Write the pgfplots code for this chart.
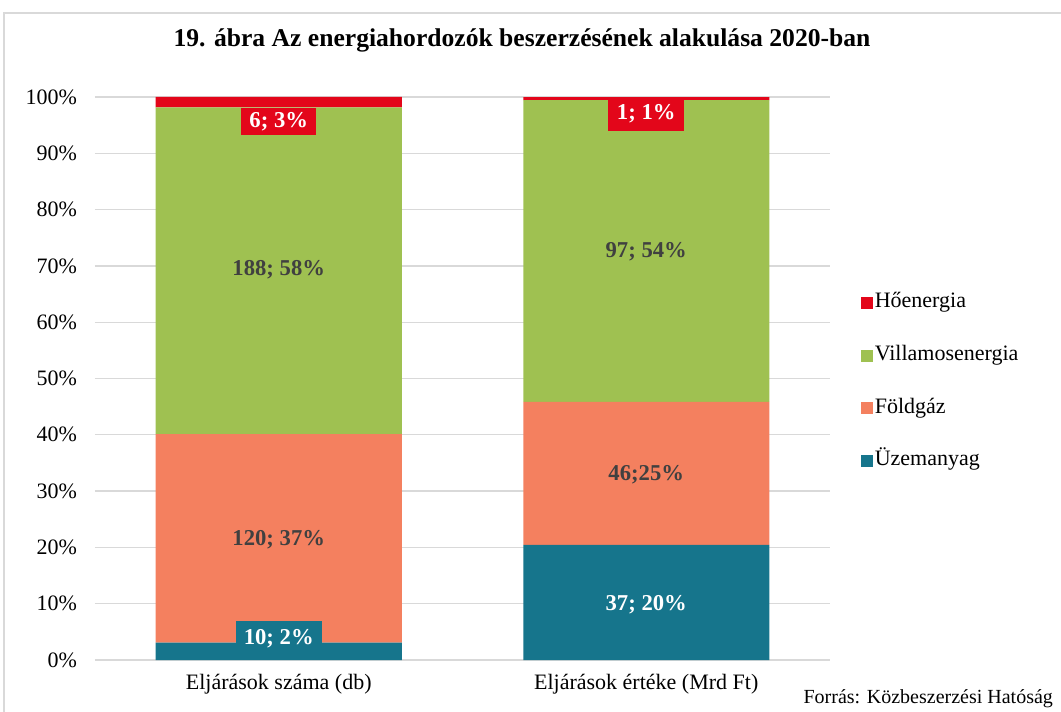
\documentclass[border=0pt]{standalone}
\usepackage{pgfplots}
\pgfplotsset{compat=1.18}
\usepackage{pgfplotstable}
\usepackage{fontspec}
\setmainfont{Liberation Serif}
\definecolor{cRed}{HTML}{E3061A}
\definecolor{cGreen}{HTML}{9FC151}
\definecolor{cOrange}{HTML}{F4805F}
\definecolor{cTeal}{HTML}{16758C}
\definecolor{cGrid}{HTML}{D9D9D9}
\definecolor{cLab}{HTML}{404040}
\pgfplotstableread{
x uzem fold vill ho
0 3.09 37.04 58.02 1.85
1 20.44 25.41 53.59 0.55
}\data
\tikzset{lab/.style={font=\bfseries\fontsize{17}{19}\selectfont}}
\begin{document}
\begin{tikzpicture}[x=1pt,y=1pt]
\path[use as bounding box] (-71.25,-38.25) rectangle (724.5,495);
\draw[cGrid, line width=1.2pt] (-68.25,-40) -- (-68.25,485.25) -- (730,485.25);
\node[font=\bfseries\fontsize{19.2}{22}\selectfont] at (320.25,465) {19. ábra Az energiahordozók beszerzésének alakulása 2020-ban};
\node[font=\fontsize{15}{17}\selectfont, anchor=east] at (722,-29) {Forrás: Közbeszerzési Hatóság};
\begin{axis}[
  at={(0,0)}, anchor=south west,
  scale only axis, width=551.25pt, height=422.25pt,
  ybar stacked, bar width=184.5pt,
  xmin=-0.5, xmax=1.5, ymin=0, ymax=100,
  xtick={0,1}, xticklabels={Eljárások száma (db), Eljárások értéke (Mrd Ft)},
  ytick={0,10,...,100},
  yticklabel={\pgfmathprintnumber{\tick}\%},
  /pgf/number format/assume math mode=true,
  ticklabel style={font=\fontsize{16.5}{18}\selectfont},
  yticklabel style={xshift=-10pt},
  xticklabel style={yshift=-7pt},
  major tick length=0pt,
  axis line style={draw=none},
  ymajorgrids, grid style={cGrid, line width=1pt},
  reverse legend,
  legend style={draw=none, at={(1.037,0.494)}, anchor=west,
    font=\fontsize{16.5}{18}\selectfont, row sep=23pt,
    nodes={text height=11pt, text depth=3.5pt, inner sep=1pt}},
  legend image code/.code={\fill[#1] (0pt,-4.5pt) rectangle (9pt,4.5pt);},
  legend cell align=left,
]
\addplot[fill=cTeal, draw=none] table[x=x, y=uzem] {\data};
\addlegendentry{Üzemanyag}
\addplot[fill=cOrange, draw=none] table[x=x, y=fold] {\data};
\addlegendentry{Földgáz}
\addplot[fill=cGreen, draw=none] table[x=x, y=vill] {\data};
\addlegendentry{Villamosenergia}
\addplot[fill=cRed, draw=none] table[x=x, y=ho] {\data};
\addlegendentry{Hőenergia}
\coordinate (L1) at (axis cs:0,95.6);
\coordinate (L2) at (axis cs:0,69.3);
\coordinate (L3) at (axis cs:0,21.3);
\coordinate (L4) at (axis cs:0,3.9);
\coordinate (R1) at (axis cs:1,97.0);
\coordinate (R2) at (axis cs:1,72.6);
\coordinate (R3) at (axis cs:1,32.9);
\coordinate (R4) at (axis cs:1,9.9);
\end{axis}
\node[lab, fill=cRed, text=white, inner xsep=6pt, inner ysep=2.5pt, text height=12pt, text depth=3.5pt] at (L1) {6; 3\%};
\node[lab, text=cLab] at (L2) {188; 58\%};
\node[lab, text=cLab] at (L3) {120; 37\%};
\node[lab, fill=cTeal, text=white, inner xsep=6pt, inner ysep=4.5pt, text height=12.5pt, text depth=3.5pt] at (L4) {10; 2\%};
\node[lab, fill=cRed, text=white, inner xsep=6.5pt, inner ysep=5pt, text height=12pt, text depth=3.5pt] at (R1) {1; 1\%};
\node[lab, text=cLab] at (R2) {97; 54\%};
\node[lab, text=cLab] at (R3) {46;25\%};
\node[lab, text=white] at (R4) {37; 20\%};
\end{tikzpicture}
\end{document}
